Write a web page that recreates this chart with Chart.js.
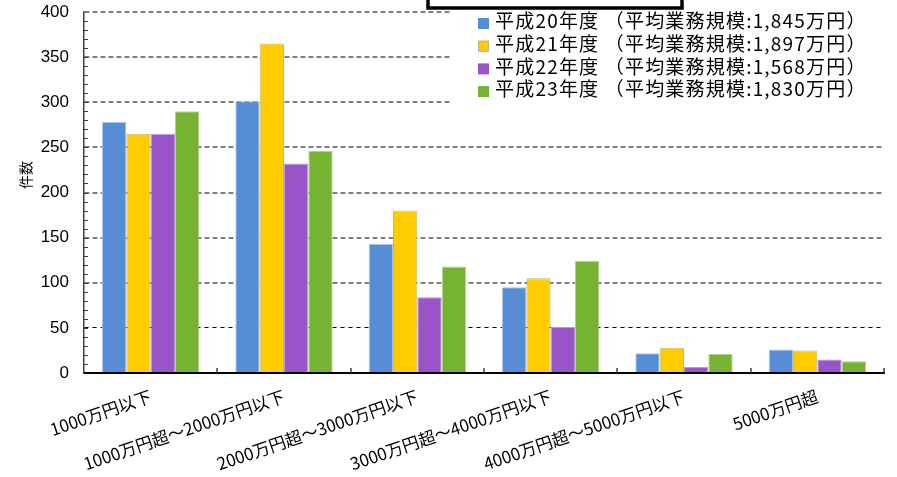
<!DOCTYPE html>
<html>
<head>
<meta charset="utf-8">
<script src="https://cdn.jsdelivr.net/npm/chart.js@4.4.1/dist/chart.umd.min.js"></script>
<style>
  html, body { margin: 0; padding: 0; background: #ffffff; }
  #wrap { width: 897px; height: 477px; position: relative; }
</style>
</head>
<body>
<div id="wrap"><canvas id="c" width="897" height="477"></canvas></div>
<script>
// ---- data ----
const categories = [
  '1000万円以下',
  '1000万円超～2000万円以下',
  '2000万円超～3000万円以下',
  '3000万円超～4000万円以下',
  '4000万円超～5000万円以下',
  '5000万円超'
];
const seriesNames = [
  '平成20年度 （平均業務規模:1,845万円）',
  '平成21年度 （平均業務規模:1,897万円）',
  '平成22年度 （平均業務規模:1,568万円）',
  '平成23年度 （平均業務規模:1,830万円）'
];
const h20 = [278, 301, 143, 95, 22, 26];
const h21 = [265, 365, 180, 105, 28, 25];
const h22 = [265, 232, 84, 51, 7, 15];
const h23 = [290, 246, 118, 124, 21, 13];
const yTicks = [0, 50, 100, 150, 200, 250, 300, 350, 400];
const yTitle = '件数';

const fills = ['#558ED5', '#FFCC00', '#9954C8', '#77B332'];
const edges = ['#A9C3E8', '#BFB38A', '#B89AD8', '#B0D38C'];
const values = [h20, h21, h22, h23];

const datasets = values.map((v, i) => ({
  label: seriesNames[i],
  data: v,
  backgroundColor: fills[i],
  borderColor: edges[i],
  borderWidth: 1,
  categoryPercentage: 0.73,
  barPercentage: 1.0
}));

const decor = {
  id: 'decor',
  afterDatasetsDraw(chart) {
    const ctx = chart.ctx;
    const y = chart.scales.y, x = chart.scales.x;
    ctx.save();
    ctx.strokeStyle = '#404040';
    ctx.lineWidth = 1;
    for (let v = 10; v < 400; v += 10) {
      const py = Math.round(y.getPixelForValue(v)) + 0.5;
      ctx.beginPath();
      ctx.moveTo(x.left, py);
      ctx.lineTo(x.left + 4, py);
      ctx.stroke();
    }
    const n = categories.length;
    const w = (x.right - x.left) / n;
    ctx.lineWidth = 1.5;
    for (let i = 1; i <= n; i++) {
      const px = Math.round(x.left + i * w);
      ctx.beginPath();
      ctx.moveTo(px, y.bottom);
      ctx.lineTo(px, y.bottom - 5);
      ctx.stroke();
    }
    ctx.restore();
  },
  afterDraw(chart) {
    const ctx = chart.ctx;
    ctx.save();
    ctx.fillStyle = '#ffffff';
    ctx.fillRect(450, 10, 436, 98);
    ctx.font = '19px "Noto Sans CJK JP"';
    ctx.letterSpacing = '1.2px';
    ctx.textBaseline = 'middle';
    ctx.textAlign = 'left';
    chart.data.datasets.forEach((ds, i) => {
      const cy = 21 + i * 22.7;
      ctx.fillStyle = ds.backgroundColor;
      ctx.fillRect(478, cy - 3, 11, 11);
      if (i === 1) {
        ctx.strokeStyle = '#BFB38A';
        ctx.lineWidth = 1;
        ctx.strokeRect(478.5, cy - 2.5, 10, 10);
      }
      ctx.fillStyle = '#000000';
      ctx.fillText(ds.label, 495, cy);
    });
    ctx.letterSpacing = '0px';
    ctx.strokeStyle = '#000000';
    ctx.lineWidth = 3.5;
    ctx.strokeRect(428, -20, 254, 28);
    ctx.translate(26, 175);
    ctx.rotate(-Math.PI / 2);
    ctx.font = '14px "Noto Sans CJK JP"';
    ctx.textAlign = 'center';
    ctx.textBaseline = 'middle';
    ctx.fillStyle = '#000000';
    ctx.fillText(yTitle, 0, 0);
    ctx.restore();
  }
};

new Chart(document.getElementById('c'), {
  type: 'bar',
  data: { labels: categories, datasets },
  plugins: [decor],
  options: {
    responsive: false,
    animation: false,
    layout: { padding: { left: 0, right: 13, top: 12, bottom: 0 } },
    plugins: { legend: { display: false }, tooltip: { enabled: false } },
    scales: {
      x: {
        offset: true,
        grid: { display: true, drawOnChartArea: false, drawTicks: false },
        border: { display: true, color: '#000000', width: 2 },
        ticks: {
          autoSkip: false,
          minRotation: 19,
          maxRotation: 19,
          padding: 13,
          color: '#000000',
          font: { family: '"Noto Sans CJK JP"', size: 17 }
        },
        afterFit(s) { s.height = 104; }
      },
      y: {
        min: 0, max: 400,
        afterBuildTicks(s) { s.ticks = yTicks.map(v => ({ value: v })); },
        grid: {
          drawTicks: false,
          color: (c) => c.tick && c.tick.value === 0 ? 'rgba(0,0,0,0)' : (c.tick && c.tick.value === 50 ? '#000000' : '#808080'),
          lineWidth: (c) => c.tick && c.tick.value === 50 ? 1 : 2
        },
        border: {
          display: true, color: '#404040', width: 1.5,
          dash: (c) => c.tick && c.tick.value === 50 ? [4, 4] : [5, 3]
        },
        ticks: {
          padding: 15,
          color: '#000000',
          font: { family: '"Liberation Sans"', size: 17 }
        },
        afterFit(s) { s.width = 84; s.paddingTop = 0; s.paddingBottom = 0; }
      }
    }
  }
});
</script>
</body>
</html>
